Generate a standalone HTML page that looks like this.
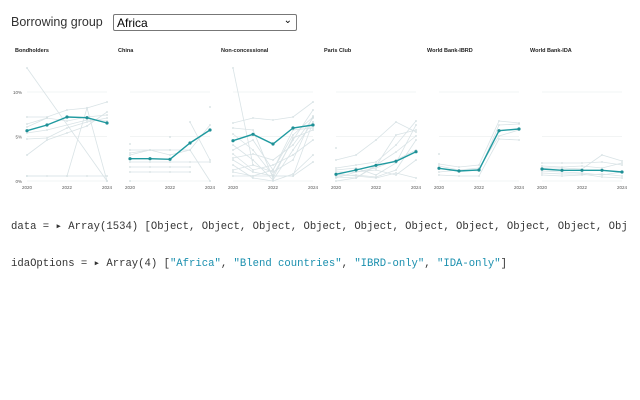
<!DOCTYPE html>
<html><head><style>
body{margin:0;width:640px;height:400px;background:#fff;overflow:hidden;font-family:"Liberation Sans",sans-serif;}
.lbl{position:absolute;left:11px;top:15px;font-size:12.5px;color:#333;}
.sel{position:absolute;left:113px;top:14px;width:184px;height:17px;border:1px solid #777;border-radius:2px;font-size:12px;box-sizing:border-box;padding:1px 3px;color:#000;}
.sel span{position:absolute;right:4px;top:0px;font-size:10px;}
.code{position:absolute;left:11px;font-family:"Liberation Mono",monospace;font-size:10.6px;color:#333;white-space:pre;}
.s{color:#1a8fae}
</style></head><body>
<div class="lbl">Borrowing group</div>
<div class="sel">Africa<span>&#8964;</span></div>
<svg width="640" height="200" style="position:absolute;left:0;top:0" id="c"></svg>
<div class="code" style="top:220px">data = ▸ Array(1534) [Object, Object, Object, Object, Object, Object, Object, Object, Object, Obj</div>
<div class="code" style="top:257px">idaOptions = ▸ Array(4) [<span class="s">"Africa"</span>, <span class="s">"Blend countries"</span>, <span class="s">"IBRD-only"</span>, <span class="s">"IDA-only"</span>]</div>
<script>
const svg=document.getElementById('c');
const titles=["Bondholders","China","Non-concessional","Paris Club","World Bank-IBRD","World Bank-IDA"];
const mains=[[130.7,125,117,117.7,123],[158.7,158.7,159.3,143,130],[140.7,134.3,144,128,125],[174.3,170,165.3,161.3,151.7],[168.3,171,170,130.7,129],[169,170.3,170.3,170.3,172]];
const grays=[
[[68,null,null,null,181],[117,117,110,108,102],[127,118,121,117,115],[139,138,128,122,118],[155,140,133,126,112],[176,176,176,176,176],[176,null,176,108,181],[124,118,null,null,null],[133,130,null,120,121]],
[[144,null,null,null,null],[153,150,150,null,null],[162,162,162,162,162],[167,167,167,167,null],[172,172,172,172,null],[181,null,null,null,null],[null,null,137,null,null],[null,null,null,122,160],[null,null,null,null,107],[155,150,155,150,181],[150,150,150,150,125]],
[[68,165,null,null,null],[123,118,120,117,102],[128,130,178,138,130],[134,150,175,140,110],[145,160,180,150,122],[150,140,170,135,117],[160,172,176,176,162],[165,178,181,174,155],[170,165,172,160,116],[172,176,170,130,128],[176,176,176,176,122],[158,154,160,145,118],[154,170,165,155,140]],
[[148,null,null,null,null],[160,155,140,122,132],[168,165,162,145,121],[172,172,168,160,150],[176,175,177,170,140],[178,172,170,175,160],[181,178,165,152,136],[174,176,178,173,178],[170,168,175,163,125],[177,178,166,135,130]],
[[154,null,null,null,null],[164,167,165,121,123],[172,170,171,125,124],[175,176,176,139,140],[166,170,168,136,130]],
[[163,163,163,162,165],[166,167,166,168,163],[171,172,173,175,172],[173,174,174,177,178],[168,168,169,155,161],[175,176,175,174,176]]
];
const NS="http://www.w3.org/2000/svg";
function el(t,a,txt){const e=document.createElementNS(NS,t);for(const k in a)e.setAttribute(k,a[k]);if(txt)e.textContent=txt;svg.appendChild(e);return e;}
for(let i=0;i<6;i++){
 const px=15+103*i, x0=27+103*i;
 el('text',{x:px,y:52,'font-size':5.5,'font-weight':'bold',fill:'#222','font-family':'Liberation Sans'},titles[i]);
 for(const v of [0,5,10]){const y=181-v*8.9;el('line',{x1:x0,x2:x0+80,y1:y,y2:y,stroke:'#eef0f1','stroke-width':0.7});
  if(i==0)el('text',{x:22,y:y+2,'font-size':4.5,fill:'#555','text-anchor':'end','font-family':'Liberation Sans'},v+'%');}
 for(const [k,yr] of [[0,'2020'],[2,'2022'],[4,'2024']])el('text',{x:x0+k*20,y:189,'font-size':4.5,fill:'#555','text-anchor':'middle','font-family':'Liberation Sans'},yr);
 for(const g of grays[i]){let pts=[];g.forEach((y,k)=>{if(y!==null){pts.push((x0+k*20)+','+y);el('circle',{cx:x0+k*20,cy:y,r:0.9,fill:'#d0dcdf'});}});
  if(pts.length>1)el('polyline',{points:pts.join(' '),fill:'none',stroke:'#d9e3e6','stroke-width':0.8});}
 const m=mains[i];el('polyline',{points:m.map((y,k)=>(x0+k*20)+','+y).join(' '),fill:'none',stroke:'#1f9aa0','stroke-width':1.4});
 m.forEach((y,k)=>el('circle',{cx:x0+k*20,cy:y,r:1.6,fill:'#1f8f95'}));
}
</script>
</body></html>
